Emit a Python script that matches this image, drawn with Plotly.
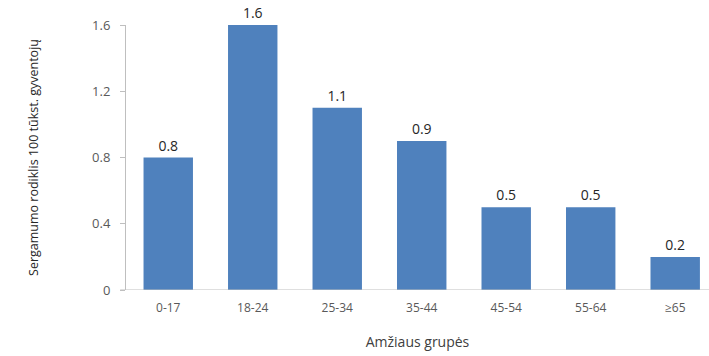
import plotly.graph_objects as go

age_groups = ["0-17", "18-24", "25-34", "35-44", "45-54", "55-64", "≥65"]
rates = [0.8, 1.6, 1.1, 0.9, 0.5, 0.5, 0.2]
y_ticks = [0, 0.4, 0.8, 1.2, 1.6]
y_tick_text = ["0", "0.4", "0.8", "1.2", "1.6"]

font_family = "Open Sans, Noto Sans, sans-serif"

fig = go.Figure(
    go.Bar(
        x=list(range(len(age_groups))),
        y=rates,
        width=0.585,
        marker=dict(color="#4F81BD", line=dict(width=0)),
        text=[f"{v:.1f}" for v in rates],
        textposition="outside",
        textfont=dict(family=font_family, size=14, color="#262626"),
        cliponaxis=False,
    )
)

fig.update_layout(
    width=709,
    height=356,
    margin=dict(l=126, r=0, t=25, b=66),
    paper_bgcolor="white",
    plot_bgcolor="white",
    showlegend=False,
    font=dict(family=font_family, color="#595959"),
    xaxis=dict(
        range=[-0.5, 6.4],
        tickmode="array",
        tickvals=list(range(len(age_groups))),
        ticktext=age_groups,
        tickfont=dict(size=12, color="#595959"),
        ticklabelstandoff=9,
        showgrid=False,
        showline=False,
        zeroline=False,
        ticks="",
        title=dict(text="Amžiaus grupės", font=dict(size=14, color="#404040"), standoff=22),
    ),
    yaxis=dict(
        range=[0, 1.6],
        tickmode="array",
        tickvals=y_ticks,
        ticktext=y_tick_text,
        tickfont=dict(size=13, color="#595959"),
        ticklabelstandoff=7,
        showgrid=False,
        zeroline=False,
        showline=True,
        linecolor="#BFBFBF",
        linewidth=1,
        ticks="outside",
        ticklen=5,
        tickcolor="#BFBFBF",
        title=dict(
            text="Sergamumo rodiklis 100 tūkst. gyventojų",
            font=dict(size=12.5, color="#262626"),
            standoff=50,
        ),
    ),
)

# horizontal baseline along the category axis
fig.add_shape(
    type="line", xref="paper", yref="y",
    x0=-0.01, x1=1, y0=0, y1=0,
    line=dict(color="#BFBFBF", width=1),
)

fig.write_html("out.html")
